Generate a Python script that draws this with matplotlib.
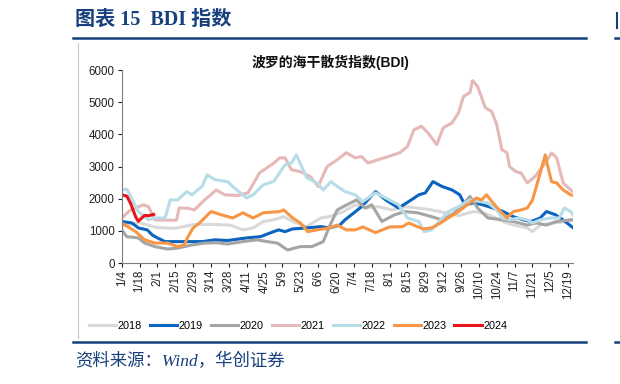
import datetime
import matplotlib
matplotlib.use("Agg")
import matplotlib.pyplot as plt
from matplotlib.lines import Line2D

plt.rcParams['font.family'] = ['Liberation Sans', 'Noto Sans CJK SC', 'DejaVu Sans']

# data (BDI, points)
d2018 = ["1/4", "1/18", "2/1", "2/15", "3/1", "3/14", "3/29", "4/8", "4/16", "4/24", "5/2", "5/10",
         "5/17", "5/28", "6/8", "6/15", "6/26", "7/5", "7/13", "7/23", "8/3", "8/13", "8/23", "9/3",
         "9/14", "9/24", "10/6", "10/13", "10/21", "10/29", "11/6", "11/17", "11/21", "11/27",
         "12/7", "12/18", "12/23"]
v2018 = [1150, 1250, 1100, 1080, 1200, 1200, 1180, 1030, 1090, 1290, 1340, 1440,
         1290, 1130, 1400, 1440, 1600, 1810, 1710, 1750, 1650, 1750, 1710, 1650,
         1560, 1470, 1600, 1560, 1440, 1290, 1180, 1090, 975, 1180,
         1245, 1290, 1340]

d2019 = ["1/4", "1/12", "1/17", "1/24", "1/28", "2/1", "2/7", "2/20", "3/7", "3/17", "3/27", "4/11",
         "4/22", "4/29", "5/6", "5/11", "5/17", "5/28", "6/8", "6/15", "6/23", "6/27", "7/4", "7/10",
         "7/21", "7/29", "8/8", "8/16", "8/24", "8/29", "9/4", "9/11", "9/19", "9/25", "9/29", "10/6",
         "10/13", "10/21", "10/29", "11/6", "11/14", "11/20", "11/27", "12/2", "12/9", "12/15", "12/23"]
v2019 = [1290, 1245, 1090, 1030, 870, 780, 665, 665, 665, 720, 700, 780,
         820, 930, 1030, 975, 1060, 1090, 1130, 1090, 1180, 1340, 1560, 1750,
         2220, 1960, 1710, 1910, 2120, 2180, 2530, 2380, 2270, 2120, 1810, 1870,
         1810, 1710, 1600, 1440, 1340, 1290, 1400, 1600, 1500, 1340, 1090]

d2020 = ["1/4", "1/8", "1/17", "1/22", "1/30", "2/9", "2/17", "2/28", "3/9", "3/19", "3/27", "4/8",
         "4/19", "4/27", "5/5", "5/13", "5/23", "6/1", "6/10", "6/15", "6/21", "6/27", "7/6", "7/13",
         "7/18", "7/26", "8/5", "8/13", "8/23", "9/3", "9/11", "9/19", "9/26", "10/3", "10/9", "10/17",
         "10/29", "11/6", "11/17", "11/24", "12/2", "12/10", "12/21", "12/23"]
v2020 = [1030, 820, 780, 620, 510, 435, 465, 560, 620, 630, 590, 665,
         720, 665, 620, 405, 510, 510, 665, 1150, 1650, 1780, 1960, 1710,
         1810, 1290, 1500, 1600, 1560, 1440, 1340, 1500, 1750, 2070, 1710, 1400,
         1340, 1290, 1180, 1245, 1180, 1290, 1340, 1350]

d2021 = ["1/4", "1/11", "1/21", "1/25", "1/30", "2/8", "2/16", "2/18", "2/25", "3/1", "3/9", "3/18",
         "3/25", "4/4", "4/12", "4/21", "5/2", "5/7", "5/11", "5/16", "5/23", "5/31", "6/6", "6/13",
         "6/21", "6/28", "7/5", "7/10", "7/15", "7/23", "7/31", "8/9", "8/15", "8/20", "8/26", "8/31",
         "9/7", "9/12", "9/19", "9/24", "9/28", "10/3", "10/5", "10/9", "10/15", "10/20", "10/24",
         "10/28", "11/1", "11/3", "11/8", "11/12", "11/17", "11/23", "11/29", "12/6", "12/10",
         "12/15", "12/21", "12/23"]
v2021 = [1400, 1650, 1810, 1750, 1340, 1330, 1330, 1710, 1700, 1650, 1960, 2270,
         2120, 2100, 2180, 2800, 3100, 3270, 3270, 2900, 2840, 2680, 2380, 3000,
         3210, 3430, 3270, 3310, 3110, 3210, 3310, 3430, 3620, 4140, 4250, 4050,
         3680, 4200, 4360, 4670, 5180, 5300, 5670, 5490, 4830, 4710, 4300,
         3520, 3430, 3000, 2840, 2800, 2490, 2690, 3000, 3420, 3270,
         2490, 2270, 2220]

d2022 = ["1/4", "1/8", "1/17", "1/25", "1/30", "2/7", "2/11", "2/17", "2/24", "2/28", "3/7", "3/11",
         "3/17", "3/27", "3/31", "4/6", "4/11", "4/16", "4/24", "5/2", "5/11", "5/16", "5/20", "5/24",
         "5/28", "6/5", "6/10", "6/16", "6/21", "6/27", "7/5", "7/11", "7/21", "7/29", "8/8", "8/15",
         "8/24", "8/28", "9/3", "9/10", "9/16", "9/24", "10/3", "10/11", "10/17", "10/24", "10/28",
         "11/3", "11/10", "11/17", "11/21", "11/27", "12/5", "12/12", "12/16", "12/21", "12/23"]
v2022 = [2270, 2300, 1600, 1340, 1400, 1400, 1960, 1960, 2220, 2120, 2380, 2740,
         2590, 2530, 2380, 2180, 2020, 2120, 2430, 2530, 3050, 3110, 3360, 3000,
         2650, 2490, 2270, 2530, 2380, 2220, 2120, 1910, 2180, 2020, 1810, 1400,
         1290, 975, 1030, 1340, 1600, 1750, 1960, 1910, 1870, 1650, 1400,
         1340, 1400, 1340, 1245, 1340, 1400, 1400, 1710, 1600, 1480]

d2023 = ["1/4", "1/15", "1/22", "1/30", "2/9", "2/17", "2/22", "2/25", "2/29", "3/5", "3/10", "3/14",
         "3/22", "3/31", "4/8", "4/16", "4/24", "5/7", "5/10", "5/17", "5/23", "5/29", "6/5", "6/15",
         "6/21", "6/28", "7/5", "7/11", "7/21", "8/1", "8/11", "8/16", "8/27", "9/3", "9/10", "9/16",
         "9/24", "10/1", "10/8", "10/12", "10/16", "10/21", "10/27", "11/1", "11/6", "11/12",
         "11/17", "11/21", "11/26", "12/1", "12/3", "12/6", "12/10", "12/15", "12/21", "12/23"]
v2023 = [1245, 975, 720, 620, 620, 510, 560, 820, 1090, 1245, 1440, 1600,
         1500, 1400, 1560, 1400, 1560, 1600, 1650, 1400, 1245, 975, 1030, 1090,
         1180, 1030, 1030, 1120, 945, 1120, 1130, 1245, 1060, 1090, 1245, 1400,
         1600, 1810, 2020, 1960, 2120, 1870, 1600, 1400, 1600, 1650,
         1710, 1960, 2650, 3360, 3000, 2530, 2490, 2270, 2120, 2100]

d2024 = ["1/4", "1/8", "1/11", "1/15", "1/17", "1/22", "1/25", "1/29"]
v2024 = [2120, 2080, 1850, 1430, 1300, 1480, 1470, 1510]

tick_labels = ["1/4", "1/18", "2/1", "2/15", "2/29", "3/14", "3/28", "4/11", "4/25", "5/9",
               "5/23", "6/6", "6/20", "7/4", "7/18", "8/1", "8/15", "8/29", "9/12", "9/26",
               "10/10", "10/24", "11/7", "11/21", "12/5", "12/19"]

series = [("2018", d2018, v2018, "#d9d9d9"),
          ("2019", d2019, v2019, "#0a64c0"),
          ("2020", d2020, v2020, "#a5a5a5"),
          ("2021", d2021, v2021, "#e6b8b7"),
          ("2022", d2022, v2022, "#b7dde8"),
          ("2023", d2023, v2023, "#f79646"),
          ("2024", d2024, v2024, "#e8141c")]


def day(s):
    m, d = s.split("/")
    return datetime.date(2024, int(m), int(d)).timetuple().tm_yday


blue = "#17407d"

fig = plt.figure(figsize=(6.2, 3.84), dpi=100)
ax = fig.add_axes([121.7 / 620, 1 - 263 / 384, (573.3 - 121.7) / 620, (263 - 70) / 384])

for name, dates, vals, color in series:
    ax.plot([day(s) for s in dates], vals, color=color, lw=2.2, label=name,
            solid_joinstyle="round")

ax.set_xlim(day("1/4"), day("12/23"))
ax.set_ylim(0, 6000)
ax.set_yticks(range(0, 6001, 1000))
ax.set_xticks([day(s) for s in tick_labels])
ax.set_xticklabels(tick_labels, rotation=90)
ax.tick_params(axis="both", labelsize=8.3, colors="#222222", length=3, width=0.8, pad=2)
for side in ("top", "right"):
    ax.spines[side].set_visible(False)
for side in ("left", "bottom"):
    ax.spines[side].set_color("#7f7f7f")
    ax.spines[side].set_linewidth(0.8)

fig.text(331 / 620, 1 - 62 / 384, "波罗的海干散货指数(BDI)", ha="center", va="center",
         fontsize=10, fontweight="bold", color="#111111")

fig.legend(loc="center", bbox_to_anchor=(298 / 620, 1 - 326 / 384), ncol=7, frameon=False,
           fontsize=7.8, handlelength=2.5, handletextpad=0.15, columnspacing=0.75)

# page decoration: heading, rules and source
fig.text(75 / 620, 1 - 20 / 384, "图表 15  BDI 指数", ha="left", va="center", fontsize=14.5,
         fontweight="bold", color=blue, family=["Liberation Serif", "Noto Sans CJK SC"])
for y in (38, 342):
    fig.add_artist(Line2D([73 / 620, 586 / 620], [1 - y / 384] * 2, color=blue, lw=1.8))
    fig.add_artist(Line2D([615 / 620, 1.0], [1 - y / 384] * 2, color=blue, lw=1.8))
fig.add_artist(Line2D([617 / 620] * 2, [1 - 13 / 384, 1 - 28 / 384], color=blue, lw=1.5))
fig.add_artist(Line2D([78 / 620] * 2, [1 - 43 / 384, 1 - 338 / 384], color="#c8c8c8", lw=0.8))
fig.text(75 / 620, 1 - 362 / 384, "资料来源：Wind，华创证券", ha="left", va="center",
         fontsize=12.5, style="italic", color=blue, family=["Liberation Serif", "Noto Sans CJK SC"])

fig.savefig("out.png", dpi=100)
